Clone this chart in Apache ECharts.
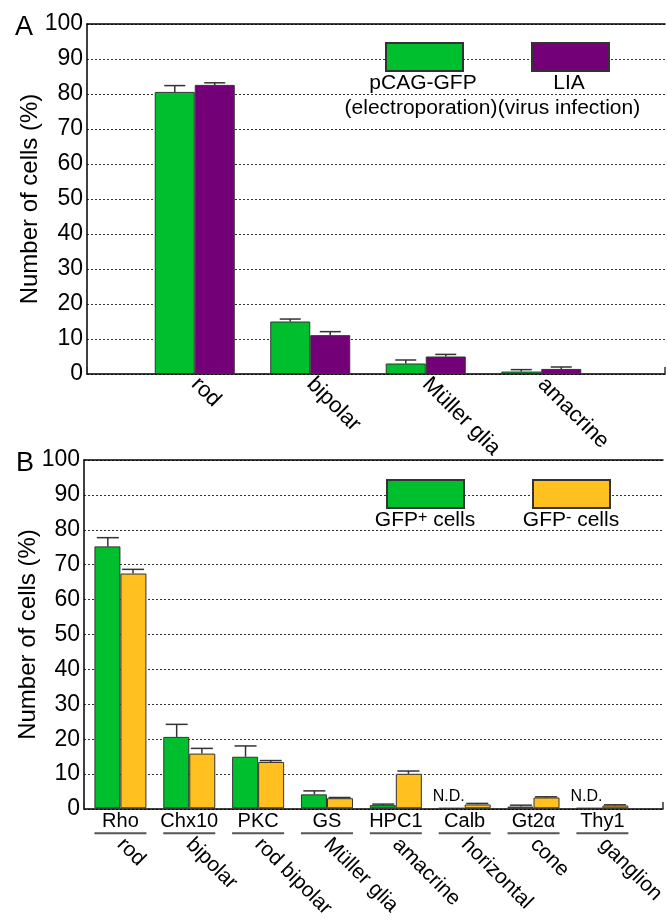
<!DOCTYPE html>
<html>
<head>
<meta charset="utf-8">
<script src="https://cdn.jsdelivr.net/npm/echarts@6/dist/echarts.min.js"></script>
<style>
html,body{margin:0;padding:0;background:#fff;}
#c{width:667px;height:921px;}
</style>
</head>
<body>
<div id="c"></div>
<script>
// ---- Data ----
var yTicks = [0, 10, 20, 30, 40, 50, 60, 70, 80, 90, 100];
var catsA = ['rod', 'bipolar', 'Müller glia', 'amacrine'];
var gfpA = [80.6, 15.0, 3.0, 0.7];
var gfpAErr = [1.8, 0.7, 1.0, 0.55];
var liaA = [82.6, 11.1, 5.0, 1.45];
var liaAErr = [0.6, 1.0, 0.6, 0.55];

var markersB = ['Rho', 'Chx10', 'PKC', 'GS', 'HPC1', 'Calb', 'Gt2α', 'Thy1'];
var typesB = ['rod', 'bipolar', 'rod bipolar', 'Müller glia', 'amacrine', 'horizontal', 'cone', 'ganglion'];
var gfpPosB = [75.2, 20.5, 14.8, 4.0, 0.9, 0, 0.5, 0];
var gfpPosErr = [2.5, 3.6, 3.1, 1.0, 0.3, 0, 0.4, 0];
var gfpNegB = [67.4, 15.7, 13.3, 2.9, 9.9, 1.1, 3.1, 0.8];
var gfpNegErr = [1.2, 1.5, 0.4, 0.2, 0.8, 0.3, 0.2, 0.2];
var notDetectedB = [false, false, false, false, false, true, false, true];

var FONT = "'Liberation Sans', Arial, Helvetica, sans-serif";
var GREEN = '#00BF2E', PURPLE = '#740078', YELLOW = '#FFC020';

var chart = echarts.init(document.getElementById('c'), null, {renderer: 'canvas'});

function frameX(gridIndex, pos) {
  return {
    type: 'value', gridIndex: gridIndex, position: pos, min: 0, max: 1, interval: 1,
    axisLine: {show: true, lineStyle: {color: '#000', width: 1.5}},
    axisTick: {show: pos === 'bottom', inside: true, length: 7, lineStyle: {color: '#333', width: 1.5}},
    axisLabel: {show: false}, splitLine: {show: false}
  };
}
function frameY(gridIndex, gap) {
  return {
    type: 'value', gridIndex: gridIndex, min: 0, max: 100, interval: 10, position: 'left',
    name: 'Number of cells (%)', nameLocation: 'middle', nameGap: gap, nameMoveOverlap: false,
    nameTextStyle: {fontSize: 24, color: '#000', fontFamily: FONT},
    axisLine: {show: true, lineStyle: {color: '#000', width: 1.5}},
    axisTick: {show: false},
    axisLabel: {fontSize: 23, color: '#000', fontFamily: FONT, margin: 4},
    splitLine: {show: true, lineStyle: {color: '#333', type: [2, 2], width: 1}}
  };
}
function hiddenY(gridIndex) {
  return {type: 'value', gridIndex: gridIndex, min: 0, max: 100, interval: 10, show: false};
}
function errSeries(name, xi, yi, vals, errs, frac, cap) {
  var data = vals.map(function (v, i) { return [i, v, errs[i]]; });
  return {
    type: 'custom', name: name + ' err', xAxisIndex: xi, yAxisIndex: yi, z: 5,
    encode: {x: 0, y: 1},
    data: data,
    renderItem: function (params, api) {
      var e = api.value(2);
      if (!e) return;
      var base = api.coord([api.value(0), api.value(1)]);
      var top = api.coord([api.value(0), api.value(1) + e]);
      var band = api.size([1, 0])[0];
      var x = base[0] + band * frac;
      var st = {stroke: '#333', lineWidth: 1.5};
      return {type: 'group', children: [
        {type: 'line', shape: {x1: x, y1: base[1], x2: x, y2: top[1]}, style: st},
        {type: 'line', shape: {x1: x - cap / 2, y1: top[1], x2: x + cap / 2, y2: top[1]}, style: st}
      ]};
    }
  };
}

var barStyle = function (c) { return {color: c, borderColor: '#333', borderWidth: 1}; };
var legendBase = function (name, left, top) {
  return {data: [name], left: left, top: top, padding: 0, itemWidth: 77, itemHeight: 28, icon: 'rect',
          formatter: function () { return ''; }, selectedMode: false};
};

var option = {
  animation: false,
  textStyle: {fontFamily: FONT},
  grid: [
    {left: 87, right: 2, top: 24, bottom: 547},
    {left: 137, width: 462, top: 24, bottom: 547},
    {left: 84, right: 4, top: 460, bottom: 112},
    {left: 86, width: 568, top: 460, bottom: 112}
  ],
  xAxis: [
    frameX(0, 'bottom'),
    frameX(0, 'top'),
    {type: 'category', gridIndex: 1, position: 'bottom', data: catsA, axisLine: {show: false}, axisTick: {show: false},
     axisLabel: {rotate: -45, verticalAlign: 'middle', margin: 7, fontSize: 22, color: '#000', fontFamily: FONT, interval: 0}},
    frameX(2, 'bottom'),
    frameX(2, 'top'),
    {type: 'category', gridIndex: 3, position: 'bottom', data: markersB, axisLine: {show: false}, axisTick: {show: false},
     axisLabel: {interval: 0, margin: 3, color: '#000',
       formatter: function (v) { return '{m|' + v + '}\n{u| }'; },
       rich: {
         m: {fontSize: 20, lineHeight: 21, color: '#000', fontFamily: FONT, align: 'center'},
         u: {fontSize: 1, width: 52, height: 2, lineHeight: 2, backgroundColor: '#555', align: 'center'}
       }}},
    {type: 'category', gridIndex: 3, position: 'bottom', offset: 0, data: typesB, axisLine: {show: false}, axisTick: {show: false},
     axisLabel: {rotate: -45, verticalAlign: 'middle', margin: 33, fontSize: 21, color: '#000', fontFamily: FONT, interval: 0}}
  ],
  yAxis: [frameY(0, 45), hiddenY(1), frameY(2, 44), hiddenY(3)],
  legend: [
    legendBase('pCAG-GFP', 385, 42),
    legendBase('LIA', 531, 42),
    legendBase('GFP+ cells', 386, 479),
    legendBase('GFP- cells', 532, 479)
  ],
  graphic: [
    {type: 'text', left: 15, top: 14, style: {text: 'A', fontSize: 27, fill: '#000', fontFamily: FONT}},
    {type: 'text', left: 16, top: 450, style: {text: 'B', fontSize: 27, fill: '#000', fontFamily: FONT}},
    {type: 'text', x: 423, y: 83, style: {text: 'pCAG-GFP', fontSize: 21, fill: '#000', fontFamily: FONT, align: 'center', verticalAlign: 'middle'}},
    {type: 'text', x: 421, y: 108, style: {text: '(electroporation)', fontSize: 21, fill: '#000', fontFamily: FONT, align: 'center', verticalAlign: 'middle'}},
    {type: 'text', x: 569, y: 83, style: {text: 'LIA', fontSize: 21, fill: '#000', fontFamily: FONT, align: 'center', verticalAlign: 'middle'}},
    {type: 'text', x: 569, y: 108, style: {text: '(virus infection)', fontSize: 21, fill: '#000', fontFamily: FONT, align: 'center', verticalAlign: 'middle'}},
    {type: 'text', x: 425, y: 520, style: {text: 'GFP{s|+} cells', fontSize: 21, fill: '#000', fontFamily: FONT, align: 'center', verticalAlign: 'middle',
      rich: {s: {fontSize: 16, verticalAlign: 'top', lineHeight: 14, fill: '#000', fontFamily: FONT}}}},
    {type: 'text', x: 571, y: 520, style: {text: 'GFP{s|-} cells', fontSize: 21, fill: '#000', fontFamily: FONT, align: 'center', verticalAlign: 'middle',
      rich: {s: {fontSize: 16, verticalAlign: 'top', lineHeight: 14, fill: '#000', fontFamily: FONT}}}}
  ],
  series: [
    {type: 'bar', name: 'pCAG-GFP', xAxisIndex: 2, yAxisIndex: 1, data: gfpA, barWidth: 40, barGap: '0%', itemStyle: barStyle(GREEN)},
    {type: 'bar', name: 'LIA', xAxisIndex: 2, yAxisIndex: 1, data: liaA, barWidth: 40, barGap: '0%', itemStyle: barStyle(PURPLE)},
    errSeries('pCAG-GFP', 2, 1, gfpA, gfpAErr, -40 / 115.5 / 2, 21),
    errSeries('LIA', 2, 1, liaA, liaAErr, 40 / 115.5 / 2, 21),
    {type: 'bar', name: 'GFP+ cells', xAxisIndex: 5, yAxisIndex: 3, barWidth: 26, barGap: '0%', itemStyle: barStyle(GREEN),
     data: gfpPosB.map(function (v, i) {
       return notDetectedB[i] ? {value: v, label: {show: true, formatter: 'N.D.', position: 'top', distance: 3, offset: [-3, 0], fontSize: 16, color: '#000', fontFamily: FONT}} : v;
     })},
    {type: 'bar', name: 'GFP- cells', xAxisIndex: 5, yAxisIndex: 3, data: gfpNegB, barWidth: 26, barGap: '0%', itemStyle: barStyle(YELLOW)},
    errSeries('GFP+ cells', 5, 3, gfpPosB, gfpPosErr, -26 / 71 / 2, 22),
    errSeries('GFP- cells', 5, 3, gfpNegB, gfpNegErr, 26 / 71 / 2, 22)
  ]
};
chart.setOption(option);
</script>
</body>
</html>
